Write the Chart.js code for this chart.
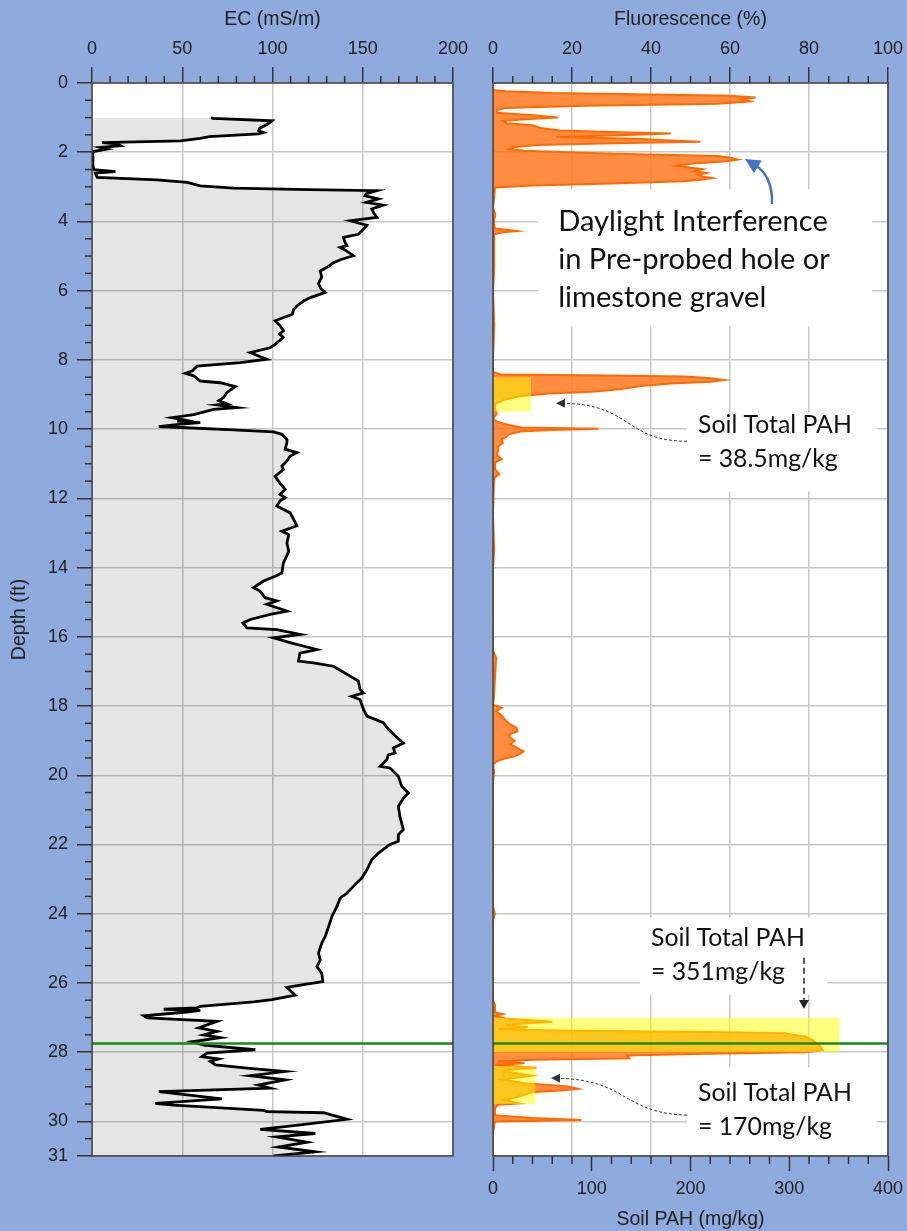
<!DOCTYPE html>
<html>
<head>
<meta charset="utf-8">
<title>EC / Fluorescence log</title>
<script src="https://cdn.jsdelivr.net/npm/chart.js@4.4.1/dist/chart.umd.min.js"></script>
<style>
  html, body { margin: 0; padding: 0; background: #8faadc; }
  #wrap { position: relative; width: 907px; height: 1231px; overflow: hidden; }
  canvas { position: absolute; top: 0; }
  #ec-chart { left: 0; }
  #fl-chart { left: 460px; }
</style>
</head>
<body>
<div id="wrap">
  <canvas id="ec-chart" width="475" height="1231"></canvas>
  <canvas id="fl-chart" width="447" height="1231"></canvas>
</div>
<script>
// ---- tick labels ----
const depthTicks = [0, 2, 4, 6, 8, 10, 12, 14, 16, 18, 20, 22, 24, 26, 28, 30, 31];
const ecTicks = [0, 50, 100, 150, 200];
const flTicks = [0, 20, 40, 60, 80, 100];
const pahTicks = [0, 100, 200, 300, 400];

// ---- EC log (depth ft, EC mS/m) ----
const ecDepth = [
  1.00, 1.02, 1.09, 1.20, 1.30, 1.38, 1.43, 1.47, 1.55, 1.60, 1.67, 1.72, 1.76, 1.81, 1.86, 1.91, 1.98,
  2.10, 2.40, 2.50, 2.56, 2.60, 2.73, 2.80, 2.87, 2.97, 3.04, 3.08, 3.11, 3.20, 3.26, 3.35, 3.45, 3.53,
  3.64, 3.75, 3.88, 3.98, 4.11, 4.25, 4.37, 4.46, 4.58, 4.70, 4.75, 4.85, 4.99, 5.10, 5.19, 5.30, 5.43,
  5.60, 5.80, 5.95, 6.05, 6.20, 6.30, 6.42, 6.54, 6.68, 6.87, 7.00, 7.16, 7.25, 7.35, 7.55, 7.65, 7.79,
  7.90, 7.98, 8.08, 8.18, 8.32, 8.39, 8.46, 8.61, 8.66, 8.77, 8.94, 9.08, 9.18, 9.27, 9.30, 9.38, 9.43,
  9.58, 9.67, 9.74, 9.77, 9.81, 9.86, 9.93, 9.96, 10.02, 10.08, 10.15, 10.30, 10.39, 10.58, 10.68, 10.78,
  10.92, 11.07, 11.17, 11.36, 11.50, 11.74, 11.89, 11.98, 12.07, 12.22, 12.42, 12.61, 12.79, 12.95, 13.05,
  13.29, 13.53, 13.87, 14.16, 14.25, 14.39, 14.58, 14.68, 14.87, 14.96, 15.06, 15.26, 15.35, 15.50, 15.60,
  15.74, 15.79, 15.93, 16.03, 16.18, 16.28, 16.37, 16.47, 16.70, 16.75, 16.85, 17.05, 17.28, 17.52, 17.62,
  17.72, 17.81, 18.10, 18.29, 18.48, 18.67, 18.86, 19.07, 19.21, 19.36, 19.41, 19.55, 19.74, 19.79, 20.03,
  20.32, 20.51, 20.66, 20.90, 21.19, 21.57, 21.72, 21.91, 22.00, 22.25, 22.44, 22.73, 22.97, 23.21, 23.41,
  23.55, 23.79, 24.08, 24.37, 24.66, 24.85, 25.14, 25.34, 25.53, 25.72, 25.96, 26.06, 26.13, 26.35, 26.48,
  26.55, 26.68, 26.72, 26.76, 26.79, 26.84, 26.95, 27.01, 27.11, 27.30, 27.40, 27.50, 27.58, 27.70, 27.80,
  27.93, 28.03, 28.13, 28.20, 28.27, 28.37, 28.46, 28.56, 28.68, 28.80, 28.95, 29.04, 29.14, 29.35, 29.48,
  29.53, 29.68, 29.72, 29.75, 29.94, 30.10, 30.23, 30.35, 30.45, 30.60, 30.74, 30.88, 31.00
];
const ecValue = [
  66, 67, 99.7, 97, 93, 92.3, 95, 92.3, 65, 60, 49, 5.6, 14, 15.8, 4.6, 8.4, 0.7,
  0.3, 0.5, 1, 13, 1.8, 2.9, 36, 52.7, 60, 78.5, 120, 157.8, 152, 151.3, 158.7, 152, 161.4,
  155, 156, 157.8, 143, 152.3, 150, 147.6, 139.3, 140, 141.2, 137.5, 141, 144.8, 138, 133.8, 131, 126.4,
  127.3, 125.4, 127, 129.2, 121, 117.2, 114, 111.7, 111, 101.5, 104, 106.1, 104, 106, 101.5, 98.6, 87.7,
  93, 96.9, 82.2, 58.2, 55.4, 51.7, 56.4, 60, 71, 79.4, 74.8, 73, 70.2, 74.8, 69.3, 80.3, 67.4,
  56.4, 44.4, 51.7, 47.2, 60, 48, 37, 52.6, 78.3, 100.6, 105.2, 108, 108, 107, 113.5, 109.8,
  108, 105.2, 106, 101.5, 103.3, 107, 104.2, 107, 104.2, 102.4, 109.8, 111.7, 113.5, 105.2, 109,
  108, 109, 106, 105.2, 101.5, 95, 89.5, 93.1, 95.9, 102.4, 96.9, 108, 98.8, 87.7, 83.6,
  85.8, 102.4, 115.4, 100.6, 110.7, 118, 124.6, 115.2, 114.4, 122.7, 133.8, 140.2, 147.6, 148.5, 150.4,
  143.9, 148.5, 150.4, 152.3, 161.4, 164.2, 167.9, 172.5, 167, 167.9, 164.2, 163.3, 159.6, 165.1, 169.7,
  171.6, 175.3, 172.5, 169.7, 170.6, 172.5, 169.7, 169.7, 165.1, 158.7, 155, 152.3, 149.5, 144.8, 141.2,
  137.5, 135.7, 132.9, 131.1, 129.2, 127.3, 125.5, 126.4, 124.6, 127.3, 127.9, 115.4, 108, 112.6, 99.7,
  89.6, 60, 58, 39.7, 60, 52.6, 28.7, 30.6, 69.3, 59.1, 69.3, 61.9, 71.1, 55.4, 61.9,
  90.5, 63.7, 60.9, 70.2, 65.6, 68.4, 85.9, 107, 87.7, 107, 92.2, 98.7, 37, 72, 35.1,
  45.2, 95, 96.9, 128.3, 141.2, 115.4, 93.2, 123.7, 102.4, 119.1, 103.3, 123.7, 100.6
];

// ---- Fluorescence log (depth ft, %) ----
const flDepth = [
  0.00, 0.20, 0.24, 0.29, 0.33, 0.37, 0.42, 0.47, 0.53, 0.60, 0.66, 0.72, 0.78, 0.86, 0.93, 1.00, 1.05,
  1.10, 1.16, 1.22, 1.30, 1.37, 1.40, 1.46, 1.52, 1.56, 1.61, 1.66, 1.70, 1.74, 1.79, 1.86, 1.91, 1.96,
  2.04, 2.11, 2.16, 2.21, 2.26, 2.33, 2.39, 2.45, 2.49, 2.55, 2.60, 2.65, 2.70, 2.75, 2.80, 2.84, 2.90,
  2.96, 3.02, 3.30, 3.60, 3.80, 4.00, 4.20, 4.25, 4.28, 4.32, 4.38, 5.40, 6.00, 7.00, 8.00, 8.35, 8.42,
  8.44, 8.48, 8.53, 8.58, 8.63, 8.68, 8.75, 8.85, 8.92, 8.97, 9.05, 9.15, 9.28, 9.43, 9.55, 9.70, 9.80,
  9.88, 9.95, 9.99, 10.03, 10.07, 10.15, 10.22, 10.30, 10.40, 10.50, 10.63, 10.75, 10.87, 10.95, 11.16,
  11.30, 11.40, 11.60, 12.50, 13.50, 14.00, 16.40, 16.60, 17.00, 17.40, 17.80, 17.96, 18.05, 18.15, 18.25,
  18.39, 18.50, 18.63, 18.73, 18.80, 18.87, 18.95, 19.01, 19.10, 19.20, 19.31, 19.40, 19.46, 19.53, 19.60,
  19.69, 19.90, 20.20, 23.80, 24.00, 24.20, 26.50, 26.60, 26.85, 26.90, 26.95, 27.03, 27.12, 27.17, 27.21,
  27.28, 27.34, 27.38, 27.42, 27.45, 27.50, 27.55, 27.60, 27.65, 27.75, 27.85, 27.94, 28.00, 28.05, 28.10,
  28.18, 28.22, 28.27, 28.32, 28.37, 28.45, 28.52, 28.56, 28.68, 28.79, 28.90, 28.99, 29.06, 29.11, 29.16,
  29.29, 29.38, 29.48, 29.52, 29.62, 29.82, 29.90, 29.96, 30.00, 30.30, 31.00
];
const flValue = [
  0, 0, 3, 15, 40, 60, 66.5, 63, 65, 57, 23, 3, 1, 1, 10, 16.5, 8,
  2.5, 3.5, 10, 12, 17, 25, 45, 30, 16, 36, 45, 52.5, 30, 11, 5, 4, 8,
  28, 57, 60, 62, 59, 50, 46.5, 50, 53, 51, 54, 52, 53, 55.5, 52, 48, 30,
  10, 0.5, 0.3, 0, 0.6, 0.2, 0.5, 4, 6, 2, 0.3, 0.3, 0, 0.3, 0, 0, 2,
  23, 48.6, 55, 58.5, 55, 45, 38, 32, 25, 14, 6.5, 3, 0.5, 0.5, 1, 0, 1.3,
  4, 7, 26.7, 13, 7, 4, 3.4, 2.2, 2.5, 1.3, 1.3, 1, 2.2, 0.6, 0.5,
  1.6, 0.4, 0.2, 0, 0.3, 0, 0, 0.8, 0.6, 0.4, 0.2, 0, 2.2, 0.8, 2,
  3, 4, 6, 6.2, 4.5, 3.9, 4.8, 5.5, 4.3, 6, 7.7, 6.5, 5.2, 2.5, 0.9,
  0, 0.3, 0, 0, 0.5, 0, 0, 0.4, 0.5, 2.5, 0.5, 3, 15, 8, 3,
  8.8, 1.3, 20, 55, 74, 76, 79, 80, 81, 82, 83, 83.5, 79, 50, 34,
  34.5, 10, 1.3, 8, 0.5, 11, 3, 2.9, 9.7, 2.2, 8, 19, 21.5, 17, 9.8,
  6.4, 2.9, 6.7, 1.3, 0.5, 0.5, 10, 22.4, 0.5, 0, 0
];

// ---- Soil samples (depth interval ft, total PAH mg/kg as drawn) ----
const pahTop = [8.5, 27.0, 28.4];
const pahBottom = [9.5, 28.0, 29.5];
const pahValue = [38.5, 351, 43];

const markerDepth = 27.75;

// ---- styles ----
const FONT = '"Liberation Sans", Arial, sans-serif';
const NOTE_FONT = 'Lato, "Open Sans", sans-serif';
const axisColor = '#333';
const gridColor = '#c8c8c8';
const tickFont = { family: FONT, size: 18 };
const titleFont = { family: FONT, size: 19.5 };

const range = (a, b, s, skip) => {
  const out = [];
  for (let v = a; v <= b + 1e-9; v += s) {
    const r = +v.toFixed(3);
    if (!skip.includes(r)) out.push(r);
  }
  return out;
};

const setTicks = vals => s => { s.ticks = vals.map(v => ({ value: v })); };
const fixH = h => s => { s.height = h; s.paddingLeft = 0; s.paddingRight = 0; s.paddingTop = 0; s.paddingBottom = 0; };
const fixW = w => s => { s.width = w; s.paddingLeft = 0; s.paddingRight = 0; s.paddingTop = 0; s.paddingBottom = 0; };

const plotBg = {
  id: 'plotBg',
  beforeDraw(chart) {
    const { ctx, chartArea: a } = chart;
    ctx.save();
    ctx.fillStyle = '#fff';
    ctx.fillRect(a.left, a.top, a.width, a.height);
    ctx.restore();
  }
};

const frame = {
  id: 'frame',
  afterDatasetsDraw(chart) {
    const { ctx, chartArea: a } = chart;
    ctx.save();
    ctx.strokeStyle = '#3c3c3c';
    ctx.lineWidth = 1.5;
    ctx.strokeRect(a.left, a.top, a.width, a.height);
    ctx.restore();
  }
};

function minorTicks(specs) {
  return {
    id: 'minorTicks',
    afterDatasetsDraw(chart) {
      const { ctx, chartArea: a } = chart;
      ctx.save();
      ctx.strokeStyle = axisColor;
      ctx.lineWidth = 1.5;
      specs.forEach(sp => {
        const sc = chart.scales[sp.scale];
        sp.values.forEach(v => {
          const p = sc.getPixelForValue(v);
          ctx.beginPath();
          if (sp.side === 'top') { ctx.moveTo(p, a.top); ctx.lineTo(p, a.top - sp.len); }
          else if (sp.side === 'bottom') { ctx.moveTo(p, a.bottom); ctx.lineTo(p, a.bottom + sp.len); }
          else { ctx.moveTo(a.left, p); ctx.lineTo(a.left - sp.len, p); }
          ctx.stroke();
        });
      });
      ctx.restore();
    }
  };
}

const pts = (ys, xs) => ys.map((d, i) => ({ x: xs[i], y: d }));

// ================= left: EC =================
new Chart(document.getElementById('ec-chart'), {
  type: 'line',
  data: {
    datasets: [
      {
        data: [{ x: 0, y: markerDepth }, { x: 200, y: markerDepth }],
        borderColor: '#178a17', borderWidth: 2.5, fill: false, order: -1
      },
      {
        data: pts(ecDepth, ecValue),
        borderColor: '#000', borderWidth: 2.8,
        backgroundColor: 'rgba(0,0,0,0.1)', fill: 'origin', order: 0
      }
    ]
  },
  options: {
    indexAxis: 'y',
    responsive: false,
    animation: false,
    devicePixelRatio: 1,
    layout: { padding: { left: 0, top: 0, right: 22, bottom: 75 } },
    elements: { point: { radius: 0 }, line: { tension: 0 } },
    plugins: { legend: { display: false }, tooltip: { enabled: false } },
    scales: {
      x: {
        type: 'linear', position: 'top', min: 0, max: 200,
        afterBuildTicks: setTicks(ecTicks),
        afterFit: fixH(83),
        ticks: { font: tickFont, color: '#222', padding: 7, maxRotation: 0 },
        grid: { color: gridColor, lineWidth: 1.5, tickLength: 16, tickColor: axisColor, tickWidth: 1.5 },
        border: { display: false },
        title: { display: true, text: 'EC (mS/m)', font: titleFont, color: '#222', padding: { top: 8, bottom: 0 } }
      },
      y: {
        type: 'linear', reverse: true, min: 0, max: 31,
        afterBuildTicks: setTicks(depthTicks),
        afterFit: fixW(92),
        ticks: { font: tickFont, color: '#222', padding: 9 },
        grid: { color: gridColor, lineWidth: 1.5, tickLength: 15, tickColor: axisColor, tickWidth: 1.5 },
        border: { display: false },
        title: { display: true, text: 'Depth (ft)', font: titleFont, color: '#222', padding: { top: 8, bottom: 0 } }
      }
    }
  },
  plugins: [plotBg, frame, minorTicks([
    { scale: 'x', side: 'top', len: 7, values: range(0, 200, 10, ecTicks) },
    { scale: 'y', side: 'left', len: 7, values: range(0, 31, 0.5, depthTicks) }
  ])]
});

// ================= right: Fluorescence + soil PAH =================
const noteMasks = [
  // [x0 %, x1 %, top ft, bottom ft]
  [11.4, 96.0, 3.07, 7.03],
  [49.1, 97.2, 9.51, 11.8],
  [37.2, 84.6, 24.12, 26.34],
  [49.1, 97.2, 28.43, 30.97]
];
const notes = [
  { lines: ['Daylight Interference', 'in Pre-probed hole or', 'limestone gravel'], x: 16.5, y: [4.27, 5.36, 6.47], width: 270 },
  { lines: ['Soil Total PAH', '= 38.5mg/kg'], x: 51.9, y: [10.12, 11.1], width: 154 },
  { lines: ['Soil Total PAH', '= 351mg/kg'], x: 40.0, y: [24.92, 25.91], width: 154 },
  { lines: ['Soil Total PAH', '= 170mg/kg'], x: 51.9, y: [29.4, 30.39], width: 154 }
];
const arrows = [
  { color: '#4472c4', width: 2.5, dash: [], head: [15, 7.5],
    p: [[70.63, 3.50], [70.89, 2.92], [68.86, 2.545], [63.8, 2.198]] },
  { color: '#333', width: 1, dash: [3, 2], head: [9, 4.5],
    p: [[49.11, 10.35], [33.42, 10.35], [35.19, 9.28], [15.95, 9.25]] },
  { color: '#222', width: 1.5, dash: [6, 4], head: [9, 5],
    p: [[78.73, 25.27], [78.73, 26.75]] },
  { color: '#333', width: 1, dash: [3, 2], head: [9, 4.5],
    p: [[49.11, 29.82], [32.66, 29.76], [34.18, 28.80], [14.68, 28.75]] }
];

const notesPlugin = {
  id: 'notes',
  beforeDatasetsDraw(chart) {
    const { ctx } = chart;
    const sx = chart.scales.x, sy = chart.scales.y;
    ctx.save();
    ctx.fillStyle = '#fff';
    noteMasks.forEach(([x0, x1, y0, y1]) => {
      const l = sx.getPixelForValue(x0), r = sx.getPixelForValue(x1);
      const t = sy.getPixelForValue(y0), b = sy.getPixelForValue(y1);
      ctx.fillRect(l, t, r - l, b - t);
    });
    ctx.restore();
  },
  afterDraw(chart) {
    const { ctx } = chart;
    const sx = chart.scales.x, sy = chart.scales.y;
    const px = p => [sx.getPixelForValue(p[0]), sy.getPixelForValue(p[1])];
    ctx.save();
    // texts
    ctx.fillStyle = '#111';
    ctx.textBaseline = 'alphabetic';
    ctx.textAlign = 'left';
    notes.forEach(n => {
      ctx.font = '100px ' + NOTE_FONT;
      const size = 100 * n.width / ctx.measureText(n.lines[0]).width;
      ctx.font = size.toFixed(1) + 'px ' + NOTE_FONT;
      n.lines.forEach((t, i) => ctx.fillText(t, sx.getPixelForValue(n.x), sy.getPixelForValue(n.y[i])));
    });
    // arrows
    arrows.forEach(a => {
      const q = a.p.map(px);
      ctx.strokeStyle = a.color;
      ctx.fillStyle = a.color;
      ctx.lineWidth = a.width;
      ctx.setLineDash(a.dash);
      const tip = q[q.length - 1], from = q[q.length - 2];
      const ang = Math.atan2(tip[1] - from[1], tip[0] - from[0]);
      const [hl, hw] = a.head;
      const end = [tip[0] - hl * 0.8 * Math.cos(ang), tip[1] - hl * 0.8 * Math.sin(ang)];
      ctx.beginPath();
      ctx.moveTo(q[0][0], q[0][1]);
      if (q.length === 4) ctx.bezierCurveTo(q[1][0], q[1][1], q[2][0], q[2][1], end[0], end[1]);
      else ctx.lineTo(end[0], end[1]);
      ctx.stroke();
      ctx.setLineDash([]);
      ctx.beginPath();
      ctx.moveTo(tip[0], tip[1]);
      ctx.lineTo(tip[0] - hl * Math.cos(ang) + hw * Math.sin(ang), tip[1] - hl * Math.sin(ang) - hw * Math.cos(ang));
      ctx.lineTo(tip[0] - hl * Math.cos(ang) - hw * Math.sin(ang), tip[1] - hl * Math.sin(ang) + hw * Math.cos(ang));
      ctx.closePath();
      ctx.fill();
    });
    ctx.restore();
  }
};

const pahSets = pahValue.map((v, i) => ({
  data: [{ x: v, y: pahTop[i] }, { x: v, y: pahBottom[i] }],
  xAxisID: 'x2',
  borderColor: 'transparent', borderWidth: 0,
  backgroundColor: 'rgba(255,255,0,0.5)', fill: 'origin', order: 0
}));

new Chart(document.getElementById('fl-chart'), {
  type: 'line',
  data: {
    datasets: [
      {
        data: [{ x: 0, y: markerDepth }, { x: 100, y: markerDepth }],
        borderColor: '#178a17', borderWidth: 2.5, fill: false, order: -1
      },
      ...pahSets,
      {
        data: pts(flDepth, flValue),
        borderColor: '#ff6a00', borderWidth: 2,
        backgroundColor: 'rgba(255,120,30,0.85)', fill: 'origin', order: 1
      }
    ]
  },
  options: {
    indexAxis: 'y',
    responsive: false,
    animation: false,
    devicePixelRatio: 1,
    layout: { padding: { left: 0, top: 0, right: 19, bottom: 0 } },
    elements: { point: { radius: 0 }, line: { tension: 0 } },
    plugins: { legend: { display: false }, tooltip: { enabled: false } },
    scales: {
      x: {
        type: 'linear', position: 'top', min: 0, max: 100,
        afterBuildTicks: setTicks(flTicks),
        afterFit: fixH(83),
        ticks: { font: tickFont, color: '#222', padding: 7, maxRotation: 0 },
        grid: { color: gridColor, lineWidth: 1.5, tickLength: 16, tickColor: axisColor, tickWidth: 1.5 },
        border: { display: false },
        title: { display: true, text: 'Fluorescence (%)', font: titleFont, color: '#222', padding: { top: 8, bottom: 0 } }
      },
      x2: {
        type: 'linear', axis: 'x', position: 'bottom', min: 0, max: 400,
        afterBuildTicks: setTicks(pahTicks),
        afterFit: fixH(75),
        ticks: { font: tickFont, color: '#222', padding: 7, maxRotation: 0 },
        grid: { drawOnChartArea: false, tickLength: 15, tickColor: axisColor, tickWidth: 1.5 },
        border: { display: false },
        title: { display: true, text: 'Soil PAH (mg/kg)', font: titleFont, color: '#222', padding: { top: 0, bottom: 0 } }
      },
      y: {
        type: 'linear', reverse: true, min: 0, max: 31,
        afterBuildTicks: setTicks(depthTicks),
        afterFit: fixW(33),
        ticks: { display: false },
        grid: { color: gridColor, lineWidth: 1.5, drawTicks: false },
        border: { display: false }
      }
    }
  },
  plugins: [plotBg, notesPlugin, frame, minorTicks([
    { scale: 'x', side: 'top', len: 7, values: range(0, 100, 5, flTicks) },
    { scale: 'x2', side: 'bottom', len: 8, values: range(0, 400, 20, pahTicks) }
  ])]
});
</script>
</body>
</html>
